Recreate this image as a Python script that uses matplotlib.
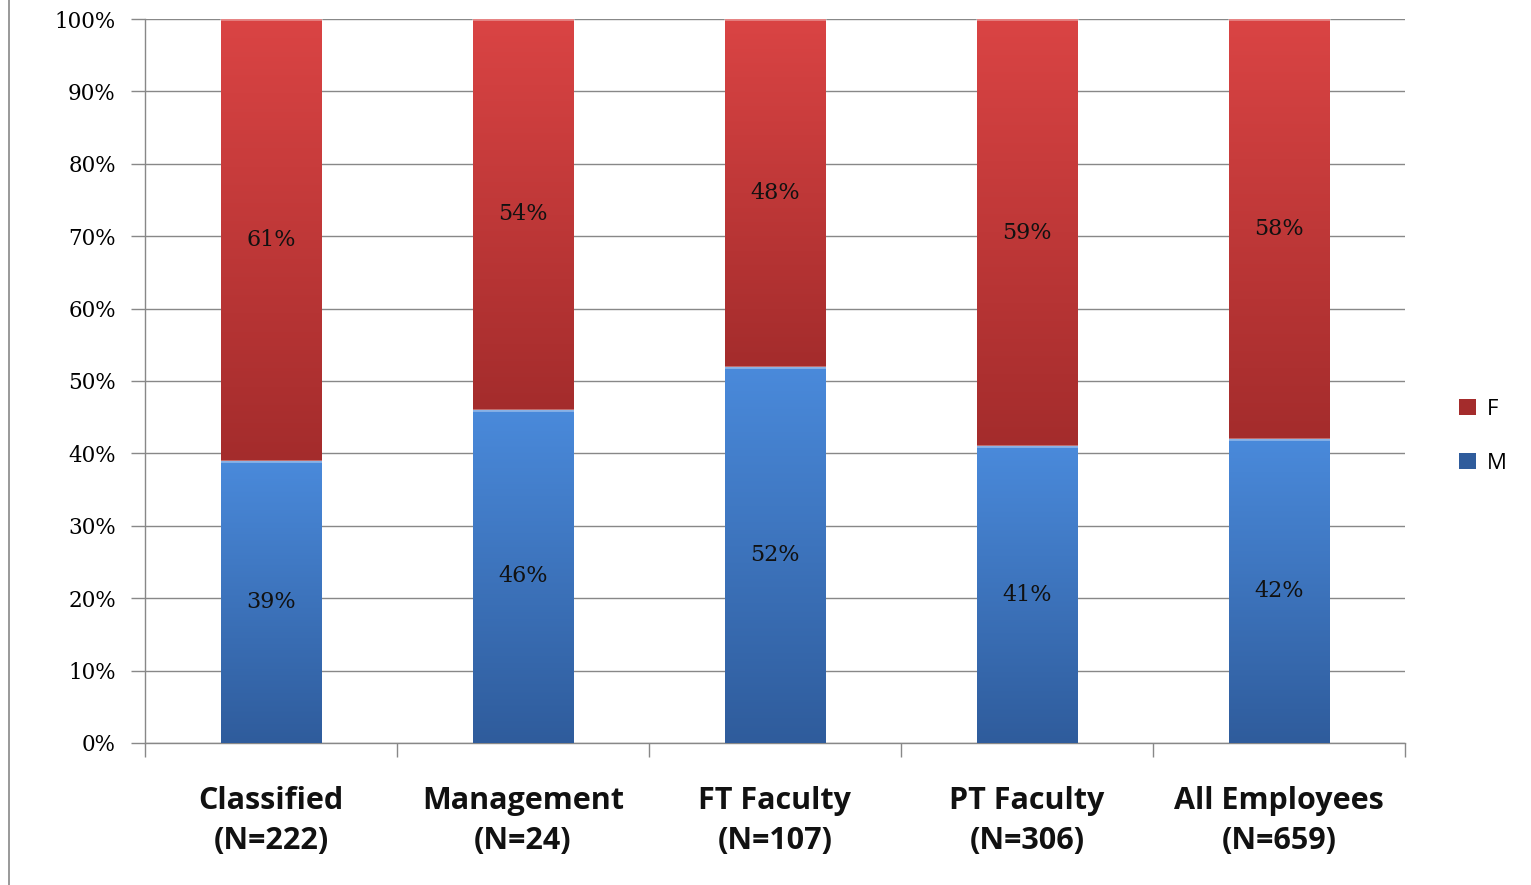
import matplotlib
matplotlib.use("Agg")
import matplotlib.pyplot as plt
import numpy as np
from matplotlib.patches import Patch
from matplotlib.lines import Line2D
from matplotlib.colors import LinearSegmentedColormap

categories = ["Classified\n(N=222)", "Management\n(N=24)", "FT Faculty\n(N=107)",
              "PT Faculty\n(N=306)", "All Employees\n(N=659)"]
male = [39, 46, 52, 41, 42]
female = [61, 54, 48, 59, 58]
yticks = [0, 10, 20, 30, 40, 50, 60, 70, 80, 90, 100]

red_top, red_bot = "#DA4444", "#A42C2C"
blue_top, blue_bot = "#4A8ADB", "#2F5C9C"

fig = plt.figure(figsize=(15.31, 8.85), dpi=100)
ax = fig.add_axes([0.0947, 0.1605, 0.9177 - 0.0947, 0.9785 - 0.1605])

x = np.arange(len(categories))
w = 0.4
bm = ax.bar(x, male, w, color=blue_top, label="M", zorder=3)
bf = ax.bar(x, female, w, bottom=male, color=red_top, label="F", zorder=3)

def grad(bars, top, bot):
    cmap = LinearSegmentedColormap.from_list("g", [bot, top])
    for p in bars:
        x0, y0 = p.get_x(), p.get_y()
        ww, hh = p.get_width(), p.get_height()
        g = np.linspace(0, 1, 256).reshape(-1, 1)
        im = ax.imshow(g, cmap=cmap, origin="lower", aspect="auto",
                       extent=[x0, x0 + ww, y0, y0 + hh], zorder=4)
        im.set_clip_path(p)
        ax.add_line(Line2D([x0, x0 + ww], [y0 + hh, y0 + hh],
                           color="white", alpha=0.35, lw=2, zorder=5))

grad(bm, blue_top, blue_bot)
grad(bf, red_top, red_bot)

for i in range(len(categories)):
    ax.text(x[i], male[i] / 2, f"{male[i]}%", ha="center", va="center",
            fontsize=16, family="DejaVu Serif", color="#111111", zorder=6)
    ax.text(x[i], male[i] + female[i] / 2, f"{female[i]}%", ha="center", va="center",
            fontsize=16, family="DejaVu Serif", color="#111111", zorder=6)

ax.set_xlim(-0.5, len(categories) - 0.5)
ax.set_ylim(0, 100)
ax.set_yticks(yticks)
ax.set_yticklabels([f"{t}%" for t in yticks], family="DejaVu Serif",
                   fontsize=15.5, color="#000000")
ax.yaxis.grid(True, color="#888888", lw=1, zorder=0)
ax.set_axisbelow(True)

ax.set_xticks(x)
ax.set_xticklabels(categories, fontsize=22, fontweight="bold", family="Open Sans",
                   linespacing=1.42, color="#111111")
ax.tick_params(axis="x", length=0, pad=31)
ax.set_xticks(np.arange(-0.5, len(categories)), minor=True)
ax.tick_params(axis="x", which="minor", length=10, color="#888888", width=1)
ax.tick_params(axis="y", length=10, color="#888888", width=1, pad=11)

for s in ["top", "right"]:
    ax.spines[s].set_visible(False)
for s in ["left", "bottom"]:
    ax.spines[s].set_color("#888888")
    ax.spines[s].set_linewidth(1)

handles = [Patch(facecolor=red_bot, label="F"), Patch(facecolor=blue_bot, label="M")]
fig.legend(handles=handles, loc="center left", bbox_to_anchor=(0.940, 0.507),
           frameon=False, handlelength=0.75, handleheight=0.75,
           handletextpad=0.5, labelspacing=1.5, prop={"family": "Open Sans", "size": 16})

fig.add_artist(Line2D([9 / 1531, 9 / 1531], [0, 1], color="#888888", lw=1.2,
                      transform=fig.transFigure))

fig.savefig("out.png", dpi=100)
